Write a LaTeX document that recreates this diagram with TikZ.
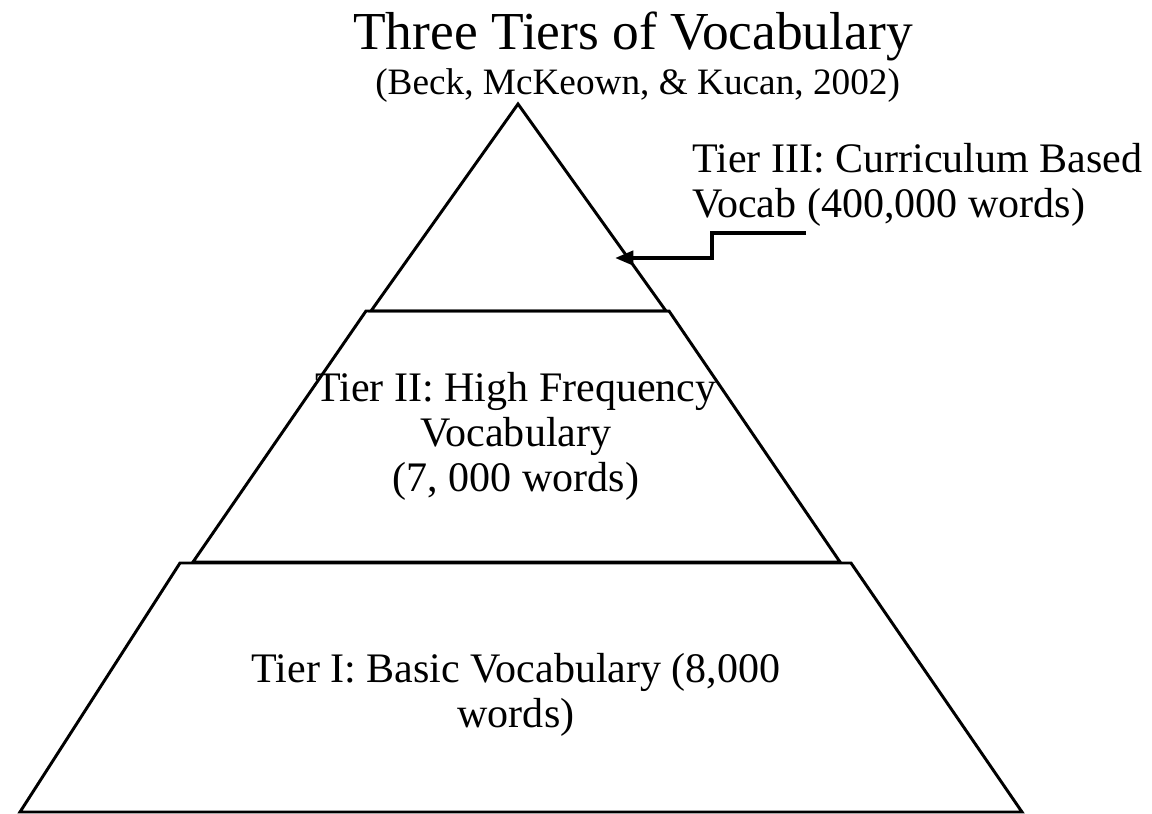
\documentclass[tikz,border=0pt]{standalone}
\usepackage{fontspec}
\setmainfont{Liberation Serif}
\usetikzlibrary{arrows.meta}

\begin{document}
\begin{tikzpicture}[
    x=0.025cm, y=-0.025cm,
    tier/.style={draw, line width=2.1pt, line join=miter},
    lbl/.style={align=center, inner sep=0pt,
                font=\fontsize{29.9}{32}\selectfont},
    >={Triangle[length=13pt,width=10pt]}
]
\useasboundingbox (0,0) rectangle (1152,814);

% Titulo
\node[inner sep=0pt, anchor=base west, font=\fontsize{38}{40}\selectfont]
    (title) at (353,50) {Three Tiers of Vocabulary};
\node[inner sep=0pt, anchor=base west, font=\fontsize{26.5}{29}\selectfont]
    (source) at (375,95) {(Beck, McKeown, \& Kucan, 2002)};

% Piramide
\draw[tier] (518,104) -- (371,311) -- (666,311) -- cycle;
\draw[tier] (366,311) -- (669,311) -- (840,562) -- (193,562) -- cycle;
\draw[tier] (180,563) -- (851,563) -- (1022,812) -- (20,812) -- cycle;

% Textos
\node[lbl, align=left, anchor=west] (tier3) at (692,185)
    {Tier III: Curriculum Based\\Vocab (400,000 words)};
\node[lbl] (tier2) at (516,436)
    {Tier II: High Frequency\\Vocabulary\\(7, 000 words)};
\node[lbl] (tier1) at (516,695)
    {Tier I: Basic Vocabulary (8,000\\words)};

% Flecha
\coordinate (arrowstart) at (806,233);
\coordinate (arrowtip) at (615,258);
\draw[->, line width=2.8pt] (arrowstart) -- ++(-94,0) |- (arrowtip);

\end{tikzpicture}
\end{document}
